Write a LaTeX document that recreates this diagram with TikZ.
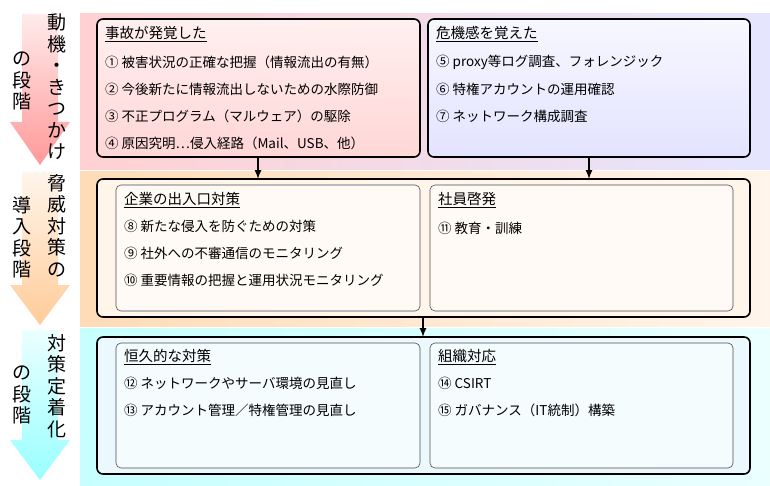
\documentclass[tikz,border=0pt]{standalone}
\usepackage{fontspec}
\setmainfont{Noto Sans CJK JP}
\tikzset{
  outerbox/.style={draw=black, line width=1.6pt, rounded corners=6pt},
  innerbox/.style={draw=black!70, line width=0.6pt, rounded corners=5pt},
  item/.style={anchor=west, font=\fontsize{13.5}{15}\selectfont, inner sep=0pt},
  head/.style={anchor=west, font=\fontsize{14.5}{16}\selectfont, inner sep=0pt},
  stagetext/.style={font=\fontsize{19}{21.5}\selectfont, align=center, inner sep=0pt},
  flow/.style={-latex, line width=2pt}
}
\newcommand{\uline}[1]{\underline{#1}}
\newcommand{\stagearrow}[3]{% top, head start, tip
  (22,#1) -- (58,#1) -- (58,#2) -- (70,#2) -- (40,#3) -- (10,#2) -- (22,#2) -- cycle}
\begin{document}
\begin{tikzpicture}[x=1pt,y=-1pt]
\useasboundingbox (0,0) rectangle (770,486);
\fill[white] (0,0) rectangle (770,486);
% bands
\shade[left color=red!18, right color=blue!10] (80,14) rectangle (770,170);
\shade[left color=orange!28, right color=orange!8] (80,172) rectangle (770,326);
\shade[left color=cyan!22, right color=cyan!8] (80,328) rectangle (770,486);
% stage arrows
\shade[top color=red!8, bottom color=red!40] \stagearrow{14}{122}{165};
\shade[top color=orange!8, bottom color=orange!40] \stagearrow{172}{285}{325};
\shade[top color=cyan!8, bottom color=cyan!40] \stagearrow{330}{440}{480};
\node[stagetext, anchor=north] (s1a) at (57,14) {動\\機\\・\\き\\つ\\か\\け};
\node[stagetext, anchor=north] (s1b) at (22,52) {の\\段\\階};
\node[stagetext, anchor=north] (s2a) at (57,174) {脅\\威\\対\\策\\の};
\node[stagetext, anchor=north] (s2b) at (22,196) {導\\入\\段\\階};
\node[stagetext, anchor=north] (s3a) at (57,334) {対\\策\\定\\着\\化};
\node[stagetext, anchor=north] (s3b) at (22,366) {の\\段\\階};
% stage 1
\draw[outerbox, top color=red!6, bottom color=red!16] (97,19) rectangle (420,157);
\draw[outerbox, top color=blue!3, bottom color=blue!11] (428,19) rectangle (750,157);
\coordinate (a1) at (258,157);
\coordinate (b1) at (589,157);
\node[head] (h1) at (105,34) {\uline{事故が発覚した}};
\node[item] (i1) at (105,62) {① 被害状況の正確な把握（情報流出の有無）};
\node[item] (i2) at (105,89) {② 今後新たに情報流出しないための水際防御};
\node[item] (i3) at (105,116) {③ 不正プログラム（マルウェア）の駆除};
\node[item] (i4) at (105,143) {④ 原因究明…侵入経路（Mail、USB、他）};
\node[head] (h2) at (436,34) {\uline{危機感を覚えた}};
\node[item] (i5) at (436,62) {⑤ proxy等ログ調査、フォレンジック};
\node[item] (i6) at (436,89) {⑥ 特権アカウントの運用確認};
\node[item] (i7) at (436,116) {⑦ ネットワーク構成調査};
% stage 2
\draw[outerbox, fill=orange!8] (97,179) rectangle (750,317);
\draw[innerbox, fill=orange!4] (116,185) rectangle (420,311);
\draw[innerbox, fill=orange!4] (430,185) rectangle (733,311);
\coordinate (a2) at (258,179);
\coordinate (b2) at (589,179);
\coordinate (c2) at (423,317);
\node[head] (h3) at (124,200) {\uline{企業の出入口対策}};
\node[item] (i8) at (124,226) {⑧ 新たな侵入を防ぐための対策};
\node[item] (i9) at (124,253) {⑨ 社外への不審通信のモニタリング};
\node[item] (i10) at (124,280) {⑩ 重要情報の把握と運用状況モニタリング};
\node[head] (h4) at (438,200) {\uline{社員啓発}};
\node[item] (i11) at (438,228) {⑪ 教育・訓練};
% stage 3
\draw[outerbox, fill=cyan!8] (97,337) rectangle (750,474);
\draw[innerbox, fill=cyan!4] (116,343) rectangle (420,468);
\draw[innerbox, fill=cyan!4] (430,343) rectangle (733,468);
\coordinate (c3) at (423,337);
\node[head] (h5) at (124,357) {\uline{恒久的な対策}};
\node[item] (i12) at (124,383) {⑫ ネットワークやサーバ環境の見直し};
\node[item] (i13) at (124,410) {⑬ アカウント管理／特権管理の見直し};
\node[head] (h6) at (438,357) {\uline{組織対応}};
\node[item] (i14) at (438,383) {⑭ CSIRT};
\node[item] (i15) at (438,410) {⑮ ガバナンス（IT統制）構築};
% flow arrows
\draw[flow] (a1) -- (a2);
\draw[flow] (b1) -- (b2);
\draw[flow] (c2) -- (c3);
\end{tikzpicture}
\end{document}
